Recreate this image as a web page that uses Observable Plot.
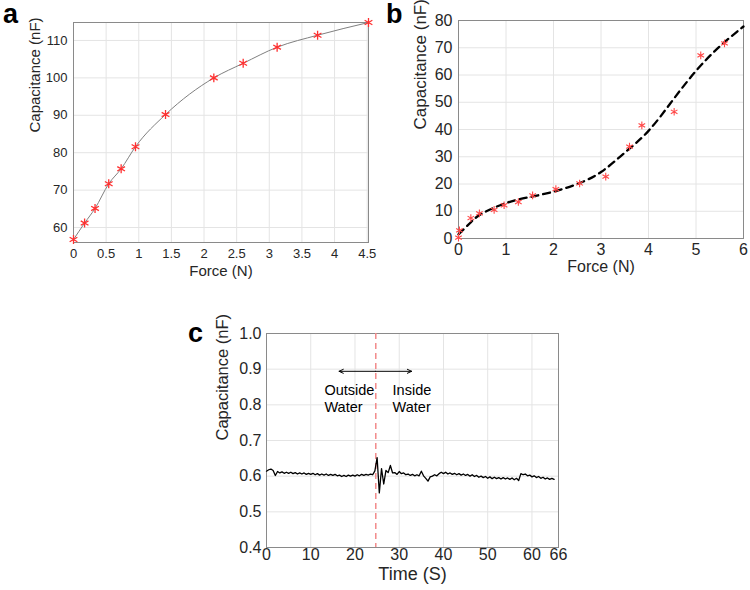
<!DOCTYPE html>
<html><head><meta charset="utf-8">
<script src="https://cdn.jsdelivr.net/npm/d3@7"></script>
<script src="https://cdn.jsdelivr.net/npm/@observablehq/plot@0.6"></script>
<style>
body{margin:0;background:#fff;}
#wrap{position:relative;width:750px;height:590px;font-family:"Liberation Sans",Arial,sans-serif;overflow:hidden;}
.panel{position:absolute;}
.letter{position:absolute;font-weight:bold;font-size:27px;line-height:27px;color:#000;font-family:"Liberation Sans",Arial,sans-serif;}
</style></head><body><div id="wrap"></div>
<script>
// ---------- Panel a data ----------
const forceA = [0, 0.17, 0.33, 0.54, 0.73, 0.95, 1.41, 2.15, 2.60, 3.12, 3.74, 4.52];
const capA   = [56.8, 61.2, 65.1, 71.7, 75.7, 81.6, 90.2, 100.0, 103.9, 108.2, 111.4, 114.8];
const aXTicks = [0, 0.5, 1, 1.5, 2, 2.5, 3, 3.5, 4, 4.5];
const aYTicks = [60, 70, 80, 90, 100, 110];

// ---------- Panel b data ----------
const forceB = [0, 0.02, 0.26, 0.44, 0.75, 0.96, 1.26, 1.56, 2.05, 2.55, 3.10, 3.60, 3.86, 4.54, 5.10, 5.60];
const capB   = [0.3, 3.0, 7.5, 9.2, 10.5, 12.2, 13.4, 15.8, 18.1, 20.2, 22.7, 33.7, 41.5, 46.5, 67.2, 71.6];
const fitForceB = [0, 0.25, 0.5, 1, 1.5, 2, 2.5, 3, 3.5, 4, 4.5, 5, 5.5, 6];
const fitCapB   = [1.5, 5.8, 9.2, 13.0, 15.2, 17.2, 20.0, 24.4, 31.5, 39.5, 50.5, 61.5, 70.5, 77.8];
const bXTicks = [0, 1, 2, 3, 4, 5, 6];
const bYTicks = [0, 10, 20, 30, 40, 50, 60, 70, 80];

// ---------- Panel c data ----------
const timeStartC = 0, timeStepC = 0.5; // sampling grid of the recording (s)
const capC = [
  0.614, 0.618, 0.620, 0.616, 0.602, 0.613, 0.609, 0.612, 0.608, 0.611,
  0.608, 0.611, 0.607, 0.610, 0.606, 0.609, 0.606, 0.609, 0.605, 0.608,
  0.605, 0.608, 0.604, 0.607, 0.603, 0.606, 0.603, 0.606, 0.602, 0.605,
  0.602, 0.605, 0.601, 0.603, 0.599, 0.602, 0.599, 0.603, 0.600, 0.603,
  0.600, 0.604, 0.601, 0.605, 0.602, 0.605, 0.603, 0.606, 0.604, 0.615,
  0.652, 0.553, 0.621, 0.578, 0.616, 0.610, 0.630, 0.609, 0.610, 0.605,
  0.613, 0.607, 0.609, 0.604, 0.606, 0.602, 0.605, 0.601, 0.604, 0.601,
  0.614, 0.601, 0.594, 0.586, 0.598, 0.600, 0.604, 0.601, 0.607, 0.611,
  0.607, 0.611, 0.606, 0.609, 0.605, 0.608, 0.604, 0.607, 0.603, 0.606,
  0.602, 0.605, 0.600, 0.604, 0.599, 0.602, 0.597, 0.600, 0.596, 0.599,
  0.594, 0.598, 0.593, 0.597, 0.593, 0.596, 0.592, 0.596, 0.592, 0.595,
  0.591, 0.595, 0.590, 0.594, 0.588, 0.607, 0.604, 0.606, 0.601, 0.603,
  0.598, 0.601, 0.596, 0.599, 0.594, 0.597, 0.592, 0.595, 0.591, 0.594,
  0.591
];
const cXTicks = [0, 10, 20, 30, 40, 50, 60, 66];
const cYTicks = [0.4, 0.5, 0.6, 0.7, 0.8, 0.9, 1.0];
const waterLineTime = 24.7;
const arrowCenter = 24.6, arrowEnds = [16.4, 32.8], arrowLevel = 0.894;
const annotations = [
  {t: 13.1, c: 0.82, label: "Outside\nWater"},
  {t: 28.5, c: 0.82, label: "Inside\nWater"}
];

const FONT = '"Liberation Sans", Arial, sans-serif';
const TXT = "#262626", GRID = "#e4e4e4", FRAME = "#8a8a8a";
const wrap = document.getElementById("wrap");

function place(svg, left, top) {
  svg.classList.add("panel");
  svg.style.left = left + "px";
  svg.style.top = top + "px";
  wrap.appendChild(svg);
}
function letter(ch, left, top) {
  const d = document.createElement("div");
  d.className = "letter";
  d.textContent = ch;
  d.style.left = left + "px";
  d.style.top = top + "px";
  wrap.appendChild(d);
}

// ---------- Panel a ----------
const dataA = forceA.map((f, i) => ({f, c: capA[i]}));
const plotA = Plot.plot({
  width: 375, height: 290,
  marginLeft: 73, marginRight: 7, marginTop: 22, marginBottom: 48,
  style: {fontFamily: FONT, color: TXT, background: "transparent", overflow: "visible"},
  x: {domain: [0, 4.52]},
  y: {domain: [56, 114.8]},
  marks: [
    Plot.gridX(aXTicks, {stroke: GRID, strokeOpacity: 1}),
    Plot.gridY(aYTicks, {stroke: GRID, strokeOpacity: 1}),
    Plot.frame({stroke: FRAME}),
    Plot.axisX(aXTicks, {tickSize: 0, tickPadding: 6, fontSize: 13, label: null, tickFormat: d => String(d)}),
    Plot.axisY(aYTicks, {tickSize: 0, tickPadding: 6, fontSize: 13, label: null}),
    Plot.line(dataA, {x: "f", y: "c", curve: "monotone-x", stroke: "#808080", strokeWidth: 1}),
    Plot.dot(dataA, {x: "f", y: "c", symbol: "asterisk", r: 4.2, stroke: "#ff3030", strokeWidth: 1.3}),
    Plot.text(["Force (N)"], {text: d => d, frameAnchor: "bottom", dy: 33, fontSize: 15, fill: TXT}),
    Plot.text(["Capacitance (nF)"], {text: d => d, frameAnchor: "left", dx: -38, rotate: -90, fontSize: 15, fill: TXT})
  ]
});
place(plotA, 0, 0);

// ---------- Panel b ----------
const dataB = forceB.map((f, i) => ({f, c: capB[i]}));
const fitB = fitForceB.map((f, i) => ({f, c: fitCapB[i]}));
const plotB = Plot.plot({
  width: 375, height: 290,
  marginLeft: 83, marginRight: 7, marginTop: 20, marginBottom: 52,
  style: {fontFamily: FONT, color: TXT, background: "transparent", overflow: "visible"},
  x: {domain: [0, 6]},
  y: {domain: [0, 80]},
  marks: [
    Plot.gridX(bXTicks, {stroke: GRID, strokeOpacity: 1}),
    Plot.gridY(bYTicks, {stroke: GRID, strokeOpacity: 1}),
    Plot.frame({stroke: FRAME}),
    Plot.axisX(bXTicks, {tickSize: 0, tickPadding: 5, fontSize: 16, label: null}),
    Plot.axisY(bYTicks, {tickSize: 0, tickPadding: 6, fontSize: 16, label: null}),
    Plot.line(fitB, {x: "f", y: "c", curve: "natural", stroke: "#000", strokeWidth: 2.3, strokeDasharray: "7,5"}),
    Plot.dot(dataB, {x: "f", y: "c", symbol: "asterisk", r: 3.6, stroke: "#ff4848", strokeWidth: 1.1}),
    Plot.text(["Force (N)"], {text: d => d, frameAnchor: "bottom", dy: 33, fontSize: 16, fill: TXT}),
    Plot.text(["Capacitance (nF)"], {text: d => d, frameAnchor: "left", dx: -38, rotate: -90, fontSize: 17, fill: TXT})
  ]
});
place(plotB, 375, 0);

// ---------- Panel c ----------
const dataC = capC.map((c, i) => ({t: timeStartC + i * timeStepC, c}));
const arrows = arrowEnds.map(e => ({x1: arrowCenter, x2: e, y: arrowLevel}));
const plotC = Plot.plot({
  width: 390, height: 300,
  marginLeft: 86, marginRight: 12, marginTop: 43, marginBottom: 43,
  style: {fontFamily: FONT, color: TXT, background: "transparent", overflow: "visible"},
  x: {domain: [0, 66]},
  y: {domain: [0.4, 1.0]},
  marks: [
    Plot.gridX(cXTicks, {stroke: GRID, strokeOpacity: 1}),
    Plot.gridY(cYTicks, {stroke: GRID, strokeOpacity: 1}),
    Plot.frame({stroke: FRAME}),
    Plot.axisX(cXTicks, {tickSize: 0, tickPadding: 1, fontSize: 16, label: null}),
    Plot.axisY(cYTicks, {tickSize: 0, tickPadding: 5, fontSize: 16, label: null, tickFormat: d => d.toFixed(1)}),
    Plot.ruleX([waterLineTime], {stroke: "#f28b8b", strokeWidth: 1.5, strokeDasharray: "6,4"}),
    Plot.line(dataC, {x: "t", y: "c", stroke: "#000", strokeWidth: 1.3}),
    Plot.arrow(arrows, {x1: "x1", x2: "x2", y1: "y", y2: "y", stroke: "#000", strokeWidth: 1, headLength: 7, headAngle: 50}),
    Plot.text(annotations, {x: "t", y: "c", text: "label", textAnchor: "start", lineHeight: 1.2, fontSize: 14.5, fill: "#000"}),
    Plot.text(["Time (S)"], {text: d => d, frameAnchor: "bottom", dy: 32, fontSize: 18, fill: TXT}),
    Plot.text(["Capacitance (nF)"], {text: d => d, frameAnchor: "left", dx: -44, rotate: -90, fontSize: 16.5, fill: TXT})
  ]
});
place(plotC, 180, 290);

letter("a", 3, 1);
letter("b", 386, 1);
letter("c", 188, 320);
</script>
</body></html>
